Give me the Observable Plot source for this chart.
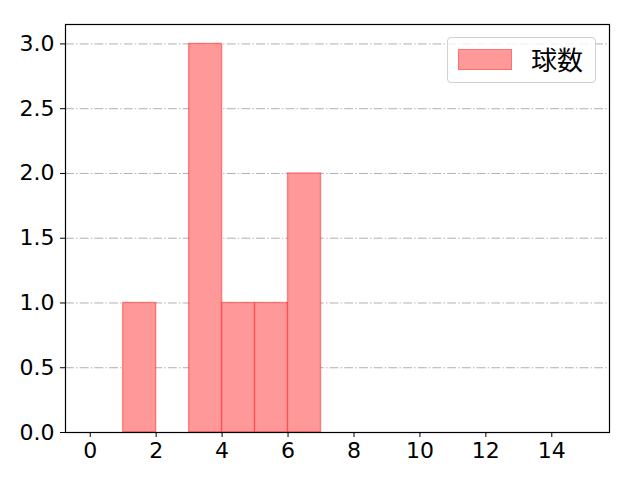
<!DOCTYPE html>
<html>
<head>
<meta charset="utf-8">
<script src="https://cdn.jsdelivr.net/npm/d3@7"></script>
<script src="https://cdn.jsdelivr.net/npm/@observablehq/plot@0.6"></script>
<style>
  html, body { margin: 0; padding: 0; background: #fff; }
  #wrap { position: relative; width: 640px; height: 480px; font-family: "Noto Sans CJK JP", "DejaVu Sans", sans-serif; }
  #wrap svg text { font-family: "DejaVu Sans", sans-serif !important; font-size: 22px !important; }
  #legend { position: absolute; left: 447px; top: 37px; width: 149px; height: 46px; border: 1px solid #d0d0d0; border-radius: 4px; background: rgba(255,255,255,0.8); box-sizing: border-box; }
  #legend .sw { position: absolute; left: 10px; top: 11px; width: 54px; height: 21px; background: #ff9999; border: 1px solid #ff7070; box-sizing: border-box; }
  #legend .lb { position: absolute; left: 83px; top: 5px; font-size: 26px; line-height: 32px; color: #000; }
</style>
</head>
<body>
<div id="wrap"></div>
<script>
const binStart = [1, 3, 4, 5, 6];
const binEnd   = [2, 4, 5, 6, 7];
const counts   = [1, 3, 1, 1, 2];
const seriesName = "球数";
const xTicks = [0, 2, 4, 6, 8, 10, 12, 14];
const yTicks = [0, 0.5, 1.0, 1.5, 2.0, 2.5, 3.0];

const bars = binStart.map((s, i) => ({x1: s, x2: binEnd[i], y: counts[i]}));

const chart = Plot.plot({
  width: 640,
  height: 480,
  marginLeft: 65,
  marginRight: 31,
  marginTop: 24,
  marginBottom: 48,
  style: {background: "#fff", color: "#000"},
  x: {domain: [-0.75, 15.75], label: null},
  y: {domain: [0, 3.15], label: null},
  marks: [
    Plot.ruleY(yTicks, {stroke: "#b0b0b0", strokeWidth: 1, strokeDasharray: "8.9,2.2,1.4,2.2"}),
    Plot.rectY(bars, {x1: "x1", x2: "x2", y: "y", fill: "#ff9999", stroke: "red", strokeOpacity: 0.4, strokeWidth: 1.4, inset: 0}),
    Plot.axisX({ticks: xTicks, tickSize: 5, tickPadding: 5, stroke: "#000", strokeWidth: 1, tickFormat: d => String(d)}),
    Plot.axisY({ticks: yTicks, tickSize: 5, tickPadding: 6, stroke: "#000", strokeWidth: 1, tickFormat: d3.format(".1f")}),
    Plot.frame({stroke: "#000", strokeWidth: 1.2})
  ]
});

const wrap = document.getElementById("wrap");
wrap.appendChild(chart);
const legend = document.createElement("div");
legend.id = "legend";
legend.innerHTML = '<div class="sw"></div><div class="lb"></div>';
legend.querySelector(".lb").textContent = seriesName;
wrap.appendChild(legend);
</script>
</body>
</html>
